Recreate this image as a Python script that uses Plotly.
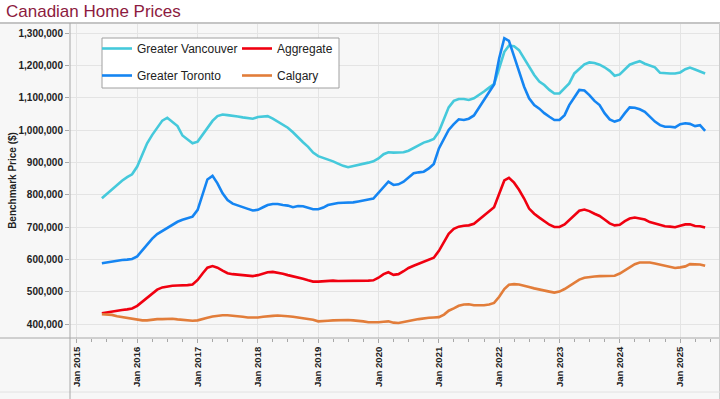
import plotly.graph_objects as go
import pandas as pd

start_month = "2015-06-01"
n_months = 121

vancouver = [
    790, 804, 818, 832, 844, 855, 864,
    888, 924, 960, 986, 1009, 1030, 1039, 1027, 1013, 984, 972, 960,
    965, 986, 1006, 1029, 1044, 1049, 1047, 1046, 1043, 1040, 1038, 1036,
    1041, 1043, 1044, 1036, 1027, 1019, 1008, 994, 977, 963, 949, 931,
    920, 915, 909, 904, 897, 890, 886, 889, 892, 896, 900, 904,
    913, 926, 932, 931, 931, 932, 937, 946, 955, 962, 967, 973,
    996, 1037, 1071, 1091, 1097, 1097, 1094, 1099, 1109, 1120, 1132, 1143,
    1192, 1243, 1262, 1260, 1248, 1223, 1197, 1171, 1151, 1140, 1125, 1114,
    1114, 1130, 1145, 1176, 1191, 1204, 1210, 1208, 1203, 1195, 1184, 1169,
    1173, 1189, 1203, 1209, 1214, 1206, 1200, 1195, 1178, 1176, 1176, 1176,
    1179, 1189, 1194, 1188, 1181, 1176,
]

toronto = [
    589, 592, 595, 597, 599, 600, 602,
    610, 629, 647, 665, 679, 689, 699, 708, 717, 723, 728, 733,
    754, 805, 848, 859, 836, 805, 784, 773, 767, 762, 757, 752,
    754, 762, 769, 772, 772, 769, 767, 762, 766, 765, 760, 756,
    756, 761, 769, 773, 775, 776, 776, 777, 780, 784, 786, 789,
    806, 826, 841, 831, 833, 841, 855, 867, 870, 872, 882, 896,
    944, 975, 1001, 1019, 1034, 1032, 1036, 1046, 1071, 1096, 1120, 1142,
    1223, 1285, 1277, 1230, 1181, 1135, 1099, 1078, 1067, 1053, 1042, 1032,
    1032, 1047, 1078, 1104, 1125, 1123, 1109, 1091, 1078, 1053, 1034, 1027,
    1032, 1053, 1071, 1070, 1065, 1057, 1042, 1027, 1016, 1011, 1011, 1009,
    1019, 1022, 1020, 1013, 1016, 998,
]

aggregate = [
    434, 437, 440, 442, 444, 446, 449,
    457, 470, 483, 496, 507, 514, 517, 519, 520, 520, 521, 523,
    537, 558, 575, 580, 575, 566, 558, 555, 553, 551, 550, 549,
    552, 557, 561, 562, 560, 556, 552, 549, 545, 541, 536, 532,
    532, 533, 535, 535, 534, 534, 533, 533, 534, 535, 535, 536,
    544, 555, 561, 553, 555, 564, 574, 581, 587, 592, 598, 606,
    627, 657, 680, 695, 702, 705, 706, 711, 724, 737, 749, 762,
    804, 845, 853, 838, 816, 789, 758, 742, 730, 720, 708, 701,
    701, 709, 722, 739, 751, 755, 750, 742, 735, 724, 712, 706,
    708, 719, 727, 730, 728, 724, 716, 711, 708, 703, 702, 700,
    705, 709, 709, 704, 703, 699,
]

calgary = [
    431, 431, 429, 425, 422, 420, 418,
    415, 412, 412, 415, 416, 416, 417, 417, 415, 414, 411, 411,
    412, 417, 420, 424, 427, 428, 428, 427, 425, 423, 421, 420,
    421, 423, 425, 426, 427, 427, 425, 423, 421, 420, 418, 414,
    409, 409, 411, 412, 413, 413, 413, 412, 411, 409, 406, 405,
    406, 408, 409, 405, 404, 407, 411, 413, 416, 419, 420, 421,
    422, 430, 442, 449, 457, 461, 462, 459, 458, 459, 461, 466,
    485, 509, 522, 524, 523, 520, 515, 511, 507, 504, 501, 498,
    501, 509, 519, 529, 538, 544, 547, 548, 549, 550, 551, 550,
    557, 567, 577, 586, 591, 592, 591, 588, 584, 580, 577, 574,
    576, 579, 586, 586, 585, 581,
]

series_names = ["Greater Vancouver", "Aggregate", "Greater Toronto", "Calgary"]
series_colors = ["#45C9DB", "#F00010", "#1585F2", "#E27D3A"]

dates = pd.date_range(start_month, periods=n_months, freq="MS")
data = {
    "Greater Vancouver": vancouver,
    "Aggregate": aggregate,
    "Greater Toronto": toronto,
    "Calgary": calgary,
}

W, H = 720, 399
L, R, T, B = 70, 1, 23, 61
pw, ph = W - L - R, H - T - B

def px(x):
    return (x - L) / pw

def py(y):
    return 1 - (y - T) / ph

# legend slot per series: (legend id, left px, top px)
legend_slot = {
    "Greater Vancouver": ("legend", 97, 34),
    "Aggregate": ("legend2", 237, 34),
    "Greater Toronto": ("legend3", 97, 61),
    "Calgary": ("legend4", 237, 61),
}

fig = go.Figure()
for name, color in zip(series_names, series_colors):
    fig.add_trace(go.Scatter(
        x=dates, y=[v * 1000 for v in data[name]], name=name, mode="lines",
        line=dict(color=color, width=2.6),
        legend=legend_slot[name][0],
        hovertemplate="%{x|%b %Y}: %{y:,.0f}<extra>" + name + "</extra>",
    ))

grid = "#E4E4E4"
axis_c = "#A8A8A8"
tick_font = dict(family="Liberation Sans, Arial", size=10, color="#222222", weight="bold")
xtick_font = dict(family="Liberation Sans, Arial", size=9.5, color="#222222", weight="bold")

shapes = [
    dict(type="rect", xref="paper", yref="paper", x0=px(0), x1=px(W), y0=1, y1=py(0),
         fillcolor="white", line=dict(width=0), layer="below"),
    dict(type="line", xref="paper", yref="paper", x0=px(0), x1=px(W), y0=1, y1=1,
         line=dict(color="#C4C4C4", width=2), layer="above"),
    dict(type="line", xref="paper", yref="paper", x0=px(719.5), x1=px(719.5), y0=1, y1=py(H),
         line=dict(color="#CCCCCC", width=1), layer="above"),
    dict(type="line", xref="paper", yref="paper", x0=px(0), x1=px(W), y0=py(392), y1=py(392),
         line=dict(color="#E2E2E2", width=1), layer="above"),
    dict(type="line", xref="paper", yref="paper", x0=px(0), x1=px(719), y0=0, y1=0,
         line=dict(color=axis_c, width=1), layer="above"),
    dict(type="line", xref="paper", yref="paper", x0=0, x1=0, y0=1, y1=py(H),
         line=dict(color=axis_c, width=1), layer="above"),
    dict(type="rect", xref="paper", yref="paper", x0=px(102), x1=px(339), y0=py(88), y1=py(38),
         fillcolor="white", line=dict(color="#A0A0A0", width=1), layer="above"),
]

legend_font = dict(family="Liberation Sans, Arial", size=12, color="#222222")
legends = {}
for name in series_names:
    lid, lx, ly = legend_slot[name]
    legends[lid] = dict(x=px(lx), y=py(ly), xanchor="left", yanchor="top",
                        orientation="v", bgcolor="rgba(0,0,0,0)", borderwidth=0,
                        font=legend_font)

fig.update_layout(
    width=W, height=H,
    margin=dict(l=L, r=R, t=T, b=B, pad=0, autoexpand=False),
    paper_bgcolor="#F7F7F7",
    plot_bgcolor="#F7F7F7",
    title=dict(text="Canadian Home Prices", x=6 / W, xanchor="left", xref="container",
               y=1 - 11 / H, yanchor="middle", yref="container",
               font=dict(family="Liberation Sans, Arial", size=17, color="#8C1A40")),
    shapes=shapes,
    showlegend=True,
    **legends,
    xaxis=dict(
        type="date", automargin=False,
        range=["2014-11-20", "2025-08-24"],
        dtick="M12", tick0="2015-01-01", tickformat="%b %Y",
        tickangle=-90, tickfont=xtick_font,
        ticks="outside", ticklen=4, tickcolor=axis_c,
        showgrid=True, gridcolor=grid, gridwidth=1,
        showline=False, zeroline=False,
        minor=dict(dtick="M3", tick0="2015-01-01", ticks="outside", ticklen=3,
                   tickcolor=axis_c, showgrid=False),
    ),
    yaxis=dict(
        automargin=False,
        range=[357500, 1332000],
        dtick=100000, tick0=0, tickformat=",d",
        tickfont=tick_font,
        ticks="outside", ticklen=4, tickcolor=axis_c,
        showgrid=True, gridcolor=grid, gridwidth=1,
        showline=False, zeroline=False,
        title=dict(text="Benchmark Price ($)", standoff=0,
                   font=dict(family="Liberation Sans, Arial", size=10, color="#222222",
                             weight="bold")),
    ),
)

fig.write_html(
    "out.html",
    config={"displayModeBar": False},
    post_script="document.body.style.margin='0';document.body.style.padding='0';",
)
